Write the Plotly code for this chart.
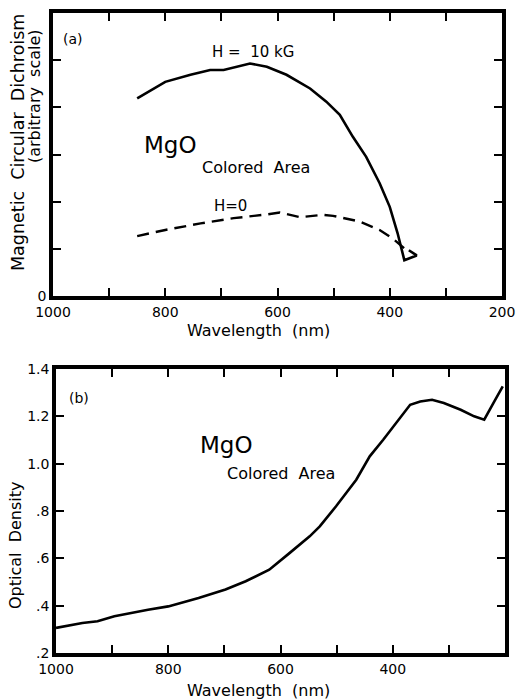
import plotly.graph_objects as go

# ---- data ----
# Panel (a): magnetic circular dichroism (arbitrary scale)
wl_h10 = [850, 800, 755, 720, 696, 649, 619, 584, 542, 513, 489, 466, 442, 418, 400, 386, 374, 352, 366]
mcd_h10 = [4.19, 4.54, 4.69, 4.79, 4.79, 4.93, 4.86, 4.69, 4.40, 4.12, 3.84, 3.38, 2.95, 2.39, 1.89, 1.33, 0.76, 0.86, 0.97]
wl_h0 = [850, 800, 737, 678, 619, 596, 560, 519, 501, 454, 418, 395, 374]
mcd_h0 = [1.27, 1.40, 1.54, 1.65, 1.73, 1.77, 1.67, 1.72, 1.70, 1.58, 1.40, 1.22, 1.01]

# Panel (b): optical density
wl_od = [1000, 953, 926, 896, 836, 800, 746, 698, 662, 620, 584, 548, 530, 501, 465, 441, 417,
         387, 369, 351, 330, 309, 279, 255, 237, 219, 204]
od = [0.306, 0.327, 0.334, 0.355, 0.383, 0.397, 0.432, 0.468, 0.503, 0.552, 0.622, 0.693, 0.735,
      0.820, 0.932, 1.031, 1.101, 1.193, 1.249, 1.263, 1.270, 1.256, 1.228, 1.200, 1.186, 1.263, 1.327]

x_ticks = [1000, 900, 800, 700, 600, 500, 400, 300, 200]
x_ticktext = ["1000", "", "800", "", "600", "", "400", "", "200"]
a_yticks = [0, 1, 2, 3, 4, 5, 6]
a_yticktext = ["0", "", "", "", "", "", ""]
b_yticks = [0.2, 0.4, 0.6, 0.8, 1.0, 1.2, 1.4]
b_yticktext = [".2", ".4", ".6", ".8", "1.0", "1.2", "1.4"]

W, H = 518, 699
FONT = "DejaVu Sans"


def px(x):
    return x / W


def py(y):
    return 1 - y / H


fig = go.Figure()
fig.add_trace(go.Scatter(x=wl_h10, y=mcd_h10, mode="lines", line=dict(color="black", width=2.6),
                         xaxis="x", yaxis="y", showlegend=False))
fig.add_trace(go.Scatter(x=wl_h0, y=mcd_h0, mode="lines",
                         line=dict(color="black", width=2.4, dash="12px,7px"),
                         xaxis="x", yaxis="y", showlegend=False))
fig.add_trace(go.Scatter(x=wl_od, y=od, mode="lines", line=dict(color="black", width=2.6),
                         xaxis="x2", yaxis="y2", showlegend=False))

axis_common = dict(showline=True, linecolor="black", linewidth=3.5, mirror="ticks",
                   ticks="inside", ticklen=8, tickwidth=1.5, tickcolor="black",
                   showgrid=False, zeroline=False, automargin=False,
                   tickfont=dict(family=FONT, size=14, color="black"))

fig.update_layout(
    width=W, height=H,
    margin=dict(l=0, r=0, t=0, b=0),
    paper_bgcolor="white", plot_bgcolor="white",
    xaxis=dict(domain=[px(53), px(502)], range=[1000, 200], tickvals=x_ticks, ticktext=x_ticktext,
               anchor="y", **axis_common),
    yaxis=dict(domain=[py(296), py(13)], range=[0, 6], tickvals=a_yticks, ticktext=a_yticktext,
               anchor="x", **axis_common),
    xaxis2=dict(domain=[px(56), px(505)], range=[1000, 200], tickvals=x_ticks, ticktext=x_ticktext,
                anchor="y2", **axis_common),
    yaxis2=dict(domain=[py(653), py(369)], range=[0.2, 1.4], tickvals=b_yticks, ticktext=b_yticktext,
                anchor="x2", **axis_common),
)


def ann(x, y, text, size=13, angle=0, xanchor="center"):
    fig.add_annotation(x=px(x), y=py(y), xref="paper", yref="paper", text=text, showarrow=False,
                       textangle=angle, xanchor=xanchor, yanchor="middle",
                       font=dict(family=FONT, size=size, color="black"))


# Panel (a) texts
ann(73, 39, "(a)", 14)
ann(253, 52, "H =  10 kG", 15)
ann(170, 145, "MgO", 23)
ann(256, 167, "Colored  Area", 16)
ann(230, 206, "H=0", 15)
ann(18, 143, "Magnetic  Circular  Dichroism", 17.5, angle=-90)
ann(34, 96, "(arbitrary  scale)", 16, angle=-90)
ann(258, 330, "Wavelength  (nm)", 16)

# Panel (b) texts
ann(79, 398, "(b)", 14)
ann(226, 445, "MgO", 23)
ann(281, 473, "Colored  Area", 16)
ann(15, 545, "Optical  Density", 16, angle=-90)
ann(258, 690, "Wavelength  (nm)", 16)

fig.write_html("out.html")
